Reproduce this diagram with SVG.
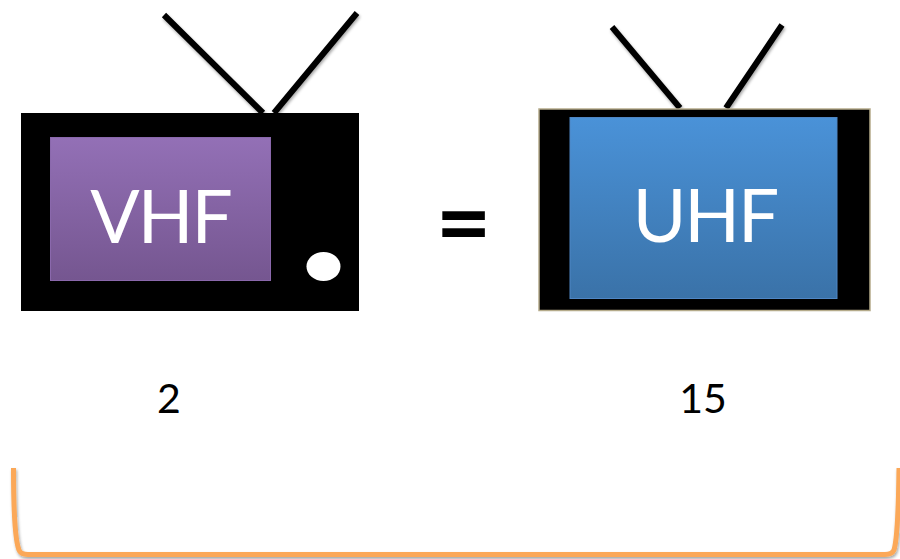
<svg xmlns="http://www.w3.org/2000/svg" width="900" height="559" viewBox="0 0 900 559">
<style>
.lbl{font-family:Lato,"Open Sans",sans-serif;text-anchor:middle}
.scr{fill:#fff;font-size:73px;letter-spacing:-2px}
.num{fill:#000;font-size:41px}
.ant{stroke:#000;stroke-width:6;fill:none;filter:url(#sh)}
</style>
<defs>
<filter id="sh" x="-20%" y="-20%" width="140%" height="140%"><feDropShadow dx="1" dy="2" stdDeviation="1.500" flood-color="#000" flood-opacity=".35"/></filter>
<linearGradient id="pu" x1="0" y1="0" x2="0" y2="1"><stop offset="0" stop-color="#9370b6"/><stop offset="1" stop-color="#755690"/></linearGradient>
<linearGradient id="bl" x1="0" y1="0" x2="0" y2="1"><stop offset="0" stop-color="#4a92d8"/><stop offset="1" stop-color="#3a72a8"/></linearGradient>
</defs>
<rect width="900" height="559" fill="#fff"/>
<g id="tv-vhf">
<path class="ant" d="M164 15L263 113M357 13L274 113"/>
<rect x="21" y="113" width="338" height="198" fill="#000"/>
<rect x="50.500" y="137.500" width="220" height="143" fill="url(#pu)" stroke="#8a68ac"/>
<ellipse cx="323.500" cy="266.500" rx="17" ry="14.500" fill="#fff"/>
<text class="lbl scr" x="160.500" y="243">VHF</text>
</g>
<g id="equals"><text class="lbl" x="463.500" y="256" font-size="96" font-weight="700" fill="#000">=</text></g>
<g id="tv-uhf">
<path class="ant" d="M612 27L680 108M782 25L726 108"/>
<rect x="539" y="109" width="331" height="201.500" fill="#000" stroke="#b5ab8a" stroke-width="1.500"/>
<rect x="570" y="117.500" width="267" height="181" fill="url(#bl)" stroke="#4f86c4"/>
<text class="lbl scr" x="705" y="242">UHF</text>
</g>
<g id="count-vhf"><text class="lbl num" x="169" y="413">2</text></g>
<g id="count-uhf"><text class="lbl num" x="703" y="413">15</text></g>
<g id="connectors">
<path d="M13.500 468C13.500 510 15 540 19 550Q20.500 554.500 28 554.500H885Q892 554.500 894 550C897 540 898.500 510 899 468" fill="none" stroke="#fba858" stroke-width="5" filter="url(#sh)"/>
</g>
</svg>
